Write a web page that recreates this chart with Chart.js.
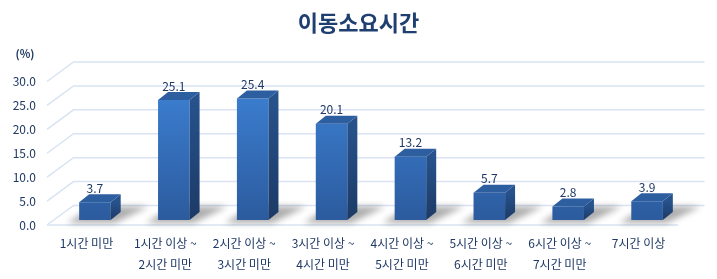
<!DOCTYPE html>
<html>
<head>
<meta charset="utf-8">
<script src="https://cdn.jsdelivr.net/npm/chart.js@4.4.1/dist/chart.umd.min.js"></script>
<style>
  html, body { margin: 0; padding: 0; background: #fff; }
  #caixa { width: 717px; height: 279px; }
</style>
</head>
<body>
<div id="caixa"><canvas id="grafico" width="717" height="279"></canvas></div>
<script>
// ==========================================
// 1. DADOS
// ==========================================

const titulo = "이동소요시간";
const unidade = "(%)";

const categorias = [
    ["1시간 미만"],
    ["1시간 이상 ~", "2시간 미만"],
    ["2시간 이상 ~", "3시간 미만"],
    ["3시간 이상 ~", "4시간 미만"],
    ["4시간 이상 ~", "5시간 미만"],
    ["5시간 이상 ~", "6시간 미만"],
    ["6시간 이상 ~", "7시간 미만"],
    ["7시간 이상"],
];

const valores = [3.7, 25.1, 25.4, 20.1, 13.2, 5.7, 2.8, 3.9];

const ticksY = [0, 5, 10, 15, 20, 25, 30];

// ==========================================
// 2. ESTILO / EFEITO 3D
// ==========================================

const FONTE = '"Noto Sans CJK KR", "Noto Sans", sans-serif';
const COR_TEXTO = "#1F3864";
const COR_GRADE = "#D9E3F3";

// profundidade do "piso" e da grade
const PROF_X = 26.5;
const PROF_Y = -19.5;
// deslocamento da face frontal das barras para dentro do piso
const BARRA_DX = 8.5;
const BARRA_DY = -5;
// profundidade das barras
const LADO_DX = 10;
const LADO_DY = -8;

function gradienteVertical(ctx, y0, y1, cores) {
    const g = ctx.createLinearGradient(0, y0, 0, y1);
    g.addColorStop(0, cores[0]);
    g.addColorStop(1, cores[1]);
    return g;
}

const efeito3d = {
    id: "efeito3d",
    beforeDatasetsDraw(chart) {
        const { ctx, chartArea: area, scales } = chart;
        const y = scales.y;
        const meta = chart.getDatasetMeta(0);

        ctx.save();
        // título centralizado na tela inteira
        ctx.fillStyle = "#1F3F70";
        ctx.font = "bold 22px " + FONTE;
        ctx.textAlign = "center";
        ctx.textBaseline = "middle";
        ctx.fillText(titulo, chart.width / 2, 23);

        // grade inclinada
        ctx.strokeStyle = COR_GRADE;
        ctx.lineWidth = 1.5;
        ticksY.forEach((v) => {
            const py = y.getPixelForValue(v);
            ctx.beginPath();
            ctx.moveTo(area.left, py);
            ctx.lineTo(area.left + PROF_X, py + PROF_Y);
            ctx.lineTo(area.right + PROF_X, py + PROF_Y);
            ctx.stroke();
        });
        // borda frontal do piso
        ctx.beginPath();
        ctx.moveTo(area.left, area.bottom);
        ctx.lineTo(area.right, area.bottom);
        ctx.stroke();

        // sombras no piso
        ctx.filter = "blur(3px)";
        ctx.fillStyle = "rgba(0,0,0,0.32)";
        meta.data.forEach((barra) => {
            const x0 = barra.x - barra.width / 2 + BARRA_DX;
            const x1 = barra.x + barra.width / 2 + BARRA_DX;
            const fundo = area.bottom + PROF_Y + 1;
            ctx.beginPath();
            ctx.moveTo(x0 - 12, area.bottom - 2);
            ctx.lineTo(x1 + 4, area.bottom - 2);
            ctx.lineTo(x1 + 38, fundo);
            ctx.lineTo(x0 + 14, fundo);
            ctx.closePath();
            ctx.fill();
        });
        ctx.restore();

        // as barras (face frontal) são desenhadas deslocadas
        ctx.save();
        ctx.translate(BARRA_DX, BARRA_DY);
    },
    afterDatasetsDraw(chart) {
        const { ctx } = chart;
        const meta = chart.getDatasetMeta(0);

        meta.data.forEach((barra) => {
            const x0 = barra.x - barra.width / 2;
            const x1 = barra.x + barra.width / 2;
            const topo = barra.y;
            const base = barra.base;

            // lateral
            ctx.fillStyle = gradienteVertical(ctx, topo, base, ["#27528C", "#1C3A66"]);
            ctx.beginPath();
            ctx.moveTo(x1, topo);
            ctx.lineTo(x1 + LADO_DX, topo + LADO_DY);
            ctx.lineTo(x1 + LADO_DX, base + LADO_DY);
            ctx.lineTo(x1, base);
            ctx.closePath();
            ctx.fill();

            // tampa
            ctx.fillStyle = "#2D5E9F";
            ctx.beginPath();
            ctx.moveTo(x0, topo);
            ctx.lineTo(x0 + LADO_DX, topo + LADO_DY);
            ctx.lineTo(x1 + LADO_DX, topo + LADO_DY);
            ctx.lineTo(x1, topo);
            ctx.closePath();
            ctx.fill();
        });
        ctx.restore();

        // rótulos de valor
        ctx.save();
        ctx.fillStyle = COR_TEXTO;
        ctx.font = "12px " + FONTE;
        ctx.textAlign = "center";
        ctx.textBaseline = "middle";
        meta.data.forEach((barra, i) => {
            ctx.fillText(valores[i].toFixed(1), barra.x + BARRA_DX, barra.y + BARRA_DY + LADO_DY - 6);
        });
        // unidade
        ctx.font = "bold 11px " + FONTE;
        ctx.fillText(unidade, 25, 54);
        ctx.restore();
    },
};

// ==========================================
// 3. GRÁFICO
// ==========================================

const ctx = document.getElementById("grafico").getContext("2d");
const grafico = new Chart(ctx, {
    type: "bar",
    data: {
        labels: categorias,
        datasets: [
            {
                data: valores,
                backgroundColor: (c) => {
                    const area = c.chart.chartArea;
                    if (!area) return "#3470C0";
                    return gradienteVertical(c.chart.ctx, area.top, area.bottom, ["#3D82D6", "#2C5B9E"]);
                },
                borderWidth: 0,
                categoryPercentage: 1,
                barPercentage: 0.4,
            },
        ],
    },
    options: {
        responsive: false,
        devicePixelRatio: 1,
        animation: false,
        layout: { padding: { left: 7, right: 39, top: 81.5, bottom: 0 } },
        plugins: {
            legend: { display: false },
            tooltip: { enabled: false },
            title: { display: false },
        },
        scales: {
            x: {
                grid: { display: false, drawTicks: false },
                border: { display: false },
                ticks: {
                    color: COR_TEXTO,
                    font: { family: FONTE, size: 12, lineHeight: 1.75 },
                    padding: 8,
                    maxRotation: 0,
                    autoSkip: false,
                },
                afterFit: (s) => { s.height = 54; },
            },
            y: {
                min: 0,
                max: 30,
                grid: { display: false, drawTicks: false },
                border: { display: false },
                ticks: {
                    color: COR_TEXTO,
                    font: { family: FONTE, size: 12 },
                    padding: 11,
                    callback: (v) => v.toFixed(1),
                },
                afterBuildTicks: (s) => { s.ticks = ticksY.map((v) => ({ value: v })); },
                afterFit: (s) => { s.width = 40; },
            },
        },
    },
    plugins: [efeito3d],
});
</script>
</body>
</html>
